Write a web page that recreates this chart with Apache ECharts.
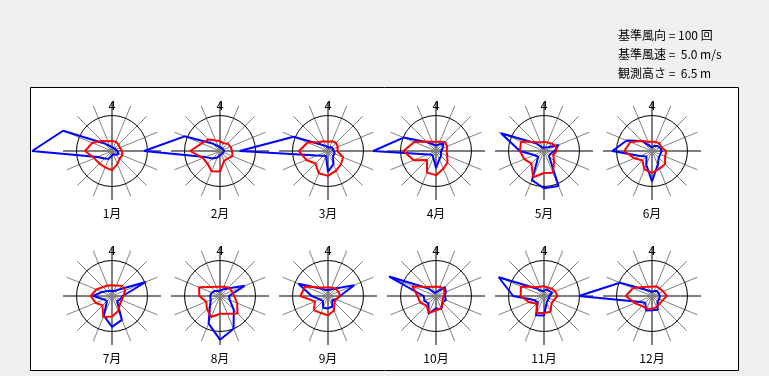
<!DOCTYPE html>
<html>
<head>
<meta charset="utf-8">
<script src="https://cdn.jsdelivr.net/npm/echarts@6/dist/echarts.min.js"></script>
<style>
html, body { margin: 0; padding: 0; background: #f0f0f0; }
#chart { width: 769px; height: 376px; }
</style>
</head>
<body>
<div id="chart"></div>
<script>
// 月別風配図 (blue: 風向頻度 [回], red: 平均風速 [m/s])
const months = ['1月', '2月', '3月', '4月', '5月', '6月', '7月', '8月', '9月', '10月', '11月', '12月'];
const dirs = ['N', 'NNE', 'NE', 'ENE', 'E', 'ESE', 'SE', 'SSE', 'S', 'SSW', 'SW', 'WSW', 'W', 'WNW', 'NW', 'NNW'];
const refCount = 100;   // 基準風向
const refSpeed = 5.0;   // 基準風速
const obsHeight = 6.5;  // 観測高さ

// 風向頻度 (回)
const count1  = [10, 10, 10, 10, 15, 20, 15, 10, 10, 24, 30, 44, 225, 149, 30, 15];
const count2  = [10, 10, 10, 10, 12, 12, 10, 10, 12, 20, 30, 45, 214, 108, 30, 15];
const count3  = [10, 12, 15, 15, 17, 20, 20, 40, 58, 15, 19, 34, 249, 105, 25, 15];
const count4  = [15, 20, 30, 20, 15, 15, 20, 25, 48, 20, 15, 15, 177, 99, 35, 20];
const count5  = [10, 10, 15, 44, 30, 20, 20, 107, 105, 89, 23, 30, 68, 131, 30, 10];
const count6  = [10, 15, 20, 25, 27, 25, 27, 42, 86, 42, 22, 36, 112, 77, 40, 15];
const count7  = [15, 15, 25, 103, 30, 25, 20, 73, 87, 60, 20, 25, 53, 30, 20, 15];
const count8  = [15, 20, 30, 75, 25, 30, 55, 100, 123, 84, 40, 28, 28, 25, 20, 15];
const count9  = [17, 20, 30, 80, 34, 25, 17, 32, 35, 36, 20, 25, 46, 90, 30, 18];
const count10 = [10, 15, 35, 30, 25, 30, 25, 40, 35, 54, 30, 35, 35, 143, 30, 10];
const count11 = [15, 20, 20, 25, 15, 15, 15, 20, 55, 59, 25, 30, 87, 138, 30, 15];
const count12 = [12, 15, 20, 20, 22, 22, 22, 42, 40, 44, 27, 42, 206, 98, 25, 15];

// 平均風速 (m/s)
const speed1  = [1.4, 1.4, 1.3, 1.2, 1.4, 1.6, 1.5, 2.0, 2.7, 2.5, 2.5, 2.7, 3.8, 3.0, 2.0, 1.5];
const speed2  = [1.4, 1.2, 1.5, 1.6, 1.7, 1.9, 1.5, 1.5, 2.9, 3.1, 2.5, 2.6, 4.2, 2.8, 2.3, 1.6];
const speed3  = [1.3, 1.5, 1.6, 1.5, 1.3, 2.3, 2.6, 3.0, 3.5, 3.4, 2.5, 3.3, 4.1, 3.1, 1.8, 1.5];
const speed4  = [1.3, 1.4, 1.8, 1.7, 1.5, 1.7, 2.3, 2.7, 3.4, 3.3, 1.8, 3.4, 4.6, 3.3, 1.9, 1.4];
const speed5  = [1.3, 1.3, 1.5, 1.8, 1.8, 1.4, 2.0, 3.3, 3.1, 4.0, 2.5, 3.0, 3.4, 3.5, 1.8, 1.3];
const speed6  = [1.3, 1.4, 1.5, 1.4, 2.0, 2.0, 2.6, 2.7, 3.1, 2.8, 1.9, 2.7, 3.9, 3.3, 2.0, 1.4];
const speed7  = [1.5, 1.6, 2.0, 2.0, 1.6, 1.5, 1.6, 2.3, 2.9, 3.2, 1.9, 2.5, 3.0, 2.4, 1.8, 1.6];
const speed8  = [1.3, 1.4, 1.7, 1.8, 2.0, 2.6, 3.5, 2.7, 2.5, 3.2, 2.6, 2.1, 2.9, 3.2, 1.8, 1.4];
const speed9  = [1.2, 1.3, 1.5, 1.6, 1.7, 1.2, 1.3, 2.2, 2.7, 2.6, 2.8, 2.0, 3.9, 3.5, 1.7, 1.3];
const speed10 = [1.3, 1.4, 1.5, 1.3, 1.1, 1.0, 1.4, 1.9, 2.0, 2.6, 1.9, 2.4, 2.6, 3.6, 1.8, 1.4];
const speed11 = [1.4, 1.3, 1.5, 1.7, 1.9, 1.5, 1.5, 2.4, 2.4, 2.6, 1.5, 2.3, 3.3, 3.5, 1.8, 1.4];
const speed12 = [1.3, 1.5, 1.5, 1.7, 2.1, 1.6, 1.5, 1.7, 1.8, 1.9, 2.0, 2.6, 3.7, 2.9, 1.8, 1.4];

const counts = [count1, count2, count3, count4, count5, count6, count7, count8, count9, count10, count11, count12];
const speeds = [speed1, speed2, speed3, speed4, speed5, speed6, speed7, speed8, speed9, speed10, speed11, speed12];

// layout
const x0 = 112, dx = 108, rowY = [151, 296];
const R = 49;       // spoke length
const Rref = 35.5;  // radius of the reference circle
const dataMax = 3;  // data polar reaches 3x the reference

// closed ring of [radius, angle] (radius relative to reference value)
function ring(vals, ref) {
    const pts = vals.map((v, k) => [v / ref, k * 360 / dirs.length]);
    pts.push([vals[0] / ref, 360]);
    return pts;
}

const hidden = { axisLine: { show: false }, axisTick: { show: false }, axisLabel: { show: false }, splitLine: { show: false } };

const polar = [], angleAxis = [], radiusAxis = [], series = [];
const graphic = [{
    type: 'rect',
    z: -10,
    shape: { x: 30.5, y: 87.5, width: 708, height: 283 },
    style: { fill: '#ffffff', stroke: '#000000', lineWidth: 1 }
}];

months.forEach(function (m, i) {
    const cx = x0 + dx * (i % 6);
    const cy = rowY[Math.floor(i / 6)];
    const p = polar.length;
    polar.push({ center: [cx, cy], radius: R });               // spokes
    polar.push({ center: [cx, cy], radius: Rref });            // reference circle
    polar.push({ center: [cx, cy], radius: Rref * dataMax });  // data

    angleAxis.push(Object.assign({}, hidden, {
        polarIndex: p, type: 'value', min: 0, max: 360, interval: 22.5,
        startAngle: 90, clockwise: true,
        splitLine: { show: true, lineStyle: { color: ['#000000', '#808080', '#808080', '#808080'], width: 1 } }
    }));
    angleAxis.push(Object.assign({}, hidden, {
        polarIndex: p + 1, type: 'value', min: 0, max: 360, startAngle: 90, clockwise: true,
        axisLine: { show: true, lineStyle: { color: '#000000', width: 1 } }
    }));
    angleAxis.push(Object.assign({}, hidden, {
        polarIndex: p + 2, type: 'value', min: 0, max: 360, startAngle: 90, clockwise: true
    }));
    radiusAxis.push(Object.assign({}, hidden, { polarIndex: p, type: 'value', min: 0, max: 1 }));
    radiusAxis.push(Object.assign({}, hidden, { polarIndex: p + 1, type: 'value', min: 0, max: 1 }));
    radiusAxis.push(Object.assign({}, hidden, { polarIndex: p + 2, type: 'value', min: 0, max: dataMax }));

    series.push({
        type: 'line', coordinateSystem: 'polar', polarIndex: p + 2,
        data: ring(counts[i], refCount), symbol: 'none', clip: false, silent: true, z: 3,
        lineStyle: { color: '#0000ff', width: 2 }
    });
    series.push({
        type: 'line', coordinateSystem: 'polar', polarIndex: p + 2,
        data: ring(speeds[i], refSpeed), symbol: 'none', clip: false, silent: true, z: 4,
        lineStyle: { color: '#ff0000', width: 2 }
    });

    graphic.push({
        type: 'text', x: cx, y: cy + 62,
        style: { text: m, fill: '#000', font: '12px "Noto Sans CJK JP"', textAlign: 'center', textVerticalAlign: 'middle' }
    });
    graphic.push({
        type: 'text', x: cx, y: cy - 44,
        style: { text: '4', fill: '#000', font: '12px "DejaVu Sans"', textAlign: 'center', textVerticalAlign: 'middle' }
    });
});

const notes = [
    '基準風向 = ' + refCount + ' 回',
    '基準風速 =  ' + refSpeed.toFixed(1) + ' m/s',
    '観測高さ =  ' + obsHeight + ' m'
];
notes.forEach(function (t, j) {
    graphic.push({
        type: 'text', x: 618, y: 35 + 19 * j,
        style: { text: t, fill: '#000', font: '12px "Noto Sans CJK JP"', textAlign: 'left', textVerticalAlign: 'middle' }
    });
});

const chart = echarts.init(document.getElementById('chart'));
chart.setOption({
    backgroundColor: '#f0f0f0',
    animation: false,
    polar: polar,
    angleAxis: angleAxis,
    radiusAxis: radiusAxis,
    series: series,
    graphic: graphic
});
</script>
</body>
</html>
